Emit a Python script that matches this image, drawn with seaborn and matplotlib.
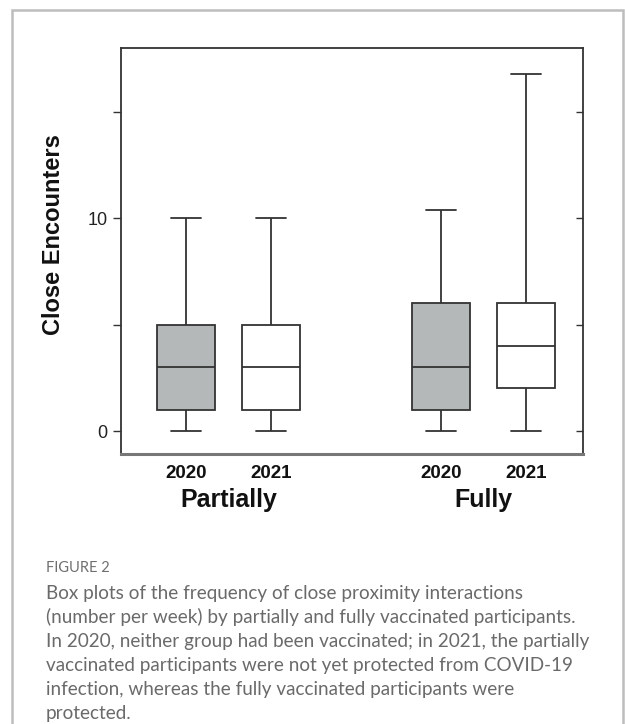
import numpy as np
import pandas as pd
import matplotlib
matplotlib.use("Agg")
import matplotlib.pyplot as plt
from matplotlib.patches import Rectangle
import seaborn as sns

# five-number summaries (min, Q1, median, Q3, max)
groups = ["Partially", "Partially", "Fully", "Fully"]
years = ["2020", "2021", "2020", "2021"]
p2020 = [0, 1, 3, 5, 10]
p2021 = [0, 1, 3, 5, 10]
f2020 = [0, 1, 3, 6, 10.4]
f2021 = [0, 2, 4, 6, 16.8]
summaries = [p2020, p2021, f2020, f2021]

rows = []
for g, yr, vals in zip(groups, years, summaries):
    for v in vals:
        rows.append({"key": g + " " + yr, "year": yr, "value": v})
df = pd.DataFrame(rows)

order = ["Partially 2020", "Partially 2021", "", "Fully 2020", "Fully 2021"]
palette = {"2020": "#b5b8b8", "2021": "#ffffff"}

sns.set_style("ticks")
plt.rcParams["font.family"] = ["Liberation Sans", "DejaVu Sans"]

fig = plt.figure(figsize=(6.25, 7.24), dpi=100)
ax = fig.add_axes([121 / 625, 1 - 454 / 724, 462 / 625, 406 / 724])

sns.boxplot(data=df, x="key", y="value", hue="year", order=order,
            palette=palette, dodge=False, width=0.69, whis=(0, 100),
            linecolor="#333333", linewidth=1.3, legend=False, ax=ax)

ax.set_xlim(-0.765, 4.67)
ax.set_ylim(-1.08, 18)

ax.set_yticks([0, 5, 10, 15])
ax.set_yticklabels(["0", "", "10", ""])
ax.tick_params(axis="y", which="both", left=True, right=False, direction="out",
               length=5.5, width=1, color="#333333", labelsize=13,
               labelcolor="#222222", pad=4)
ax2 = ax.secondary_yaxis("right")
ax2.set_yticks([0, 5, 10, 15])
ax2.set_yticklabels([])
ax2.tick_params(direction="in", length=5, width=1, color="#333333")
ax2.spines["right"].set_visible(False)

ax.set_xticks([0, 1, 3, 4])
ax.set_xticklabels(["2020", "2021", "2020", "2021"], fontsize=13.5,
                   fontweight="bold", color="#111111")
ax.tick_params(axis="x", length=0, pad=8)
ax.set_xlabel("")

ax.set_ylabel("Close Encounters", fontsize=17, fontweight="bold",
              color="#111111")
ax.yaxis.set_label_coords(-0.121, 0.54)

for side in ["top", "right", "left"]:
    ax.spines[side].set_color("#333333")
    ax.spines[side].set_linewidth(1.3)
ax.spines["bottom"].set_color("#777777")
ax.spines["bottom"].set_linewidth(2.2)

for xpos, name in [(0.5, "Partially"), (3.5, "Fully")]:
    ax.text(xpos, -0.113, name, transform=ax.get_xaxis_transform(),
            ha="center", va="center", fontsize=18, fontweight="bold",
            color="#111111")

# light frame around figure and caption
fig.patches.append(Rectangle((12 / 625, -0.02), 611 / 625, 1.02 - 10 / 724,
                             transform=fig.transFigure, fill=False,
                             edgecolor="#bdbdbd", linewidth=1.8))

cap_font = ["Lato", "DejaVu Sans"]
fig.text(46 / 625, 1 - 568 / 724, "FIGURE 2", fontsize=10.5, color="#6e6e6e",
         family=cap_font, va="center", ha="left")
caption = [
    "Box plots of the frequency of close proximity interactions",
    "(number per week) by partially and fully vaccinated participants.",
    "In 2020, neither group had been vaccinated; in 2021, the partially",
    "vaccinated participants were not yet protected from COVID-19",
    "infection, whereas the fully vaccinated participants were",
    "protected.",
]
for i, line in enumerate(caption):
    fig.text(46 / 625, 1 - (593 + 24.2 * i) / 724, line, fontsize=13.6,
             color="#6a6a6a", family=cap_font, va="center", ha="left")

fig.savefig("out.png", dpi=100)
